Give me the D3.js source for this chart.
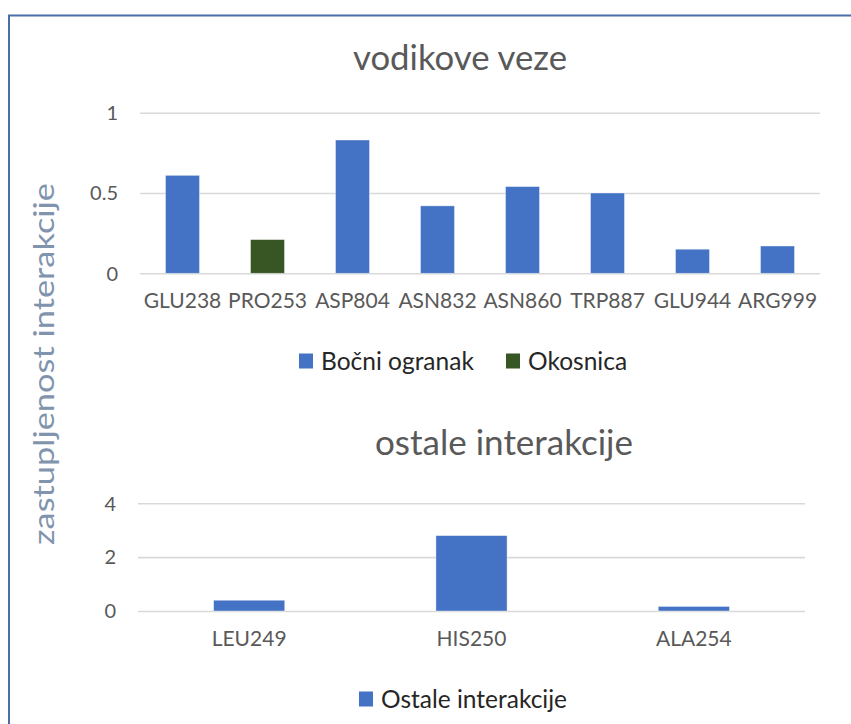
<!DOCTYPE html>
<html>
<head>
<meta charset="utf-8">
<script src="https://cdn.jsdelivr.net/npm/d3@7"></script>
<style>
  html, body { margin: 0; padding: 0; background: #ffffff; }
  svg { display: block; font-family: Lato, "Liberation Sans", sans-serif; }
  .grid line { stroke: #d9d9d9; stroke-width: 1.6; }
  .tick text { fill: #595959; }
</style>
</head>
<body>
<svg id="chart" width="851" height="724"></svg>
<script>
// Hydrogen bonds per residue
const hbCategories = ["GLU238", "PRO253", "ASP804", "ASN832", "ASN860", "TRP887", "GLU944", "ARG999"];
const hbValues = [0.61, 0.21, 0.83, 0.42, 0.54, 0.50, 0.15, 0.17];
const hbSeries = ["Bočni ogranak", "Okosnica", "Bočni ogranak", "Bočni ogranak", "Bočni ogranak", "Bočni ogranak", "Bočni ogranak", "Bočni ogranak"];
const hbLegend = ["Bočni ogranak", "Okosnica"];
const hbTicks = [0, 0.5, 1];

// Other interactions per residue
const otherCategories = ["LEU249", "HIS250", "ALA254"];
const otherValues = [0.40, 2.80, 0.17];
const otherLegend = ["Ostale interakcije"];
const otherTicks = [0, 2, 4];

const colors = { "Bočni ogranak": "#4472c4", "Okosnica": "#375623", "Ostale interakcije": "#4472c4" };

const svg = d3.select("#chart");

// outer frame
svg.append("rect")
  .attr("x", 9).attr("y", 15.5).attr("width", 860).attr("height", 740)
  .attr("fill", "none").attr("stroke", "#4a6ea8").attr("stroke-width", 2);

// shared vertical axis title
svg.append("text")
  .attr("transform", "translate(54,364) rotate(-90)")
  .attr("text-anchor", "middle")
  .attr("font-size", 29)
  .attr("textLength", 362)
  .attr("lengthAdjust", "spacingAndGlyphs")
  .attr("fill", "#8094ad")
  .text("zastupljenost interakcije");

function drawPanel(cfg) {
  const x = d3.scaleBand()
    .domain(cfg.categories)
    .range([cfg.left, cfg.right])
    .paddingInner(cfg.padInner)
    .paddingOuter(cfg.padInner / 2);
  const y = d3.scaleLinear().domain(cfg.domain).range([cfg.bottom, cfg.top]);

  const g = svg.append("g");

  // gridlines with tick labels
  const yAxis = d3.axisLeft(y)
    .tickValues(cfg.ticks)
    .tickFormat(d3.format("~g"))
    .tickSize(-(cfg.right - cfg.left))
    .tickPadding(22);
  g.append("g")
    .attr("class", "grid")
    .attr("transform", `translate(${cfg.left},0)`)
    .call(yAxis)
    .attr("font-family", null)
    .call(a => a.select(".domain").remove())
    .call(a => a.selectAll("text").attr("font-size", 20).attr("dy", "0.34em"));

  // bars
  g.selectAll("rect.bar")
    .data(cfg.categories.map((c, i) => ({ c, v: cfg.values[i], s: cfg.series[i] })))
    .join("rect")
    .attr("class", "bar")
    .attr("x", d => x(d.c))
    .attr("width", x.bandwidth())
    .attr("y", d => y(d.v))
    .attr("height", d => y(0) - y(d.v))
    .attr("fill", d => colors[d.s])
    .attr("stroke", "#ffffff")
    .attr("stroke-opacity", 0.5)
    .attr("stroke-width", 0.8);

  // category labels
  const xAxis = d3.axisBottom(x).tickSize(0).tickPadding(cfg.labelPad);
  g.append("g")
    .attr("transform", `translate(0,${cfg.bottom})`)
    .call(xAxis)
    .attr("font-family", null)
    .call(a => a.select(".domain").remove())
    .call(a => a.selectAll("text").attr("font-size", 21));

  // title
  svg.append("text")
    .attr("x", cfg.titleX).attr("y", cfg.titleY)
    .attr("text-anchor", "middle")
    .attr("font-size", 34)
    .attr("textLength", cfg.titleWidth)
    .attr("lengthAdjust", "spacingAndGlyphs")
    .attr("fill", "#595959")
    .text(cfg.title);

  // legend
  const lg = svg.append("g");
  cfg.legend.forEach((name, i) => {
    const lx = cfg.legendX[i];
    lg.append("rect")
      .attr("x", lx).attr("y", cfg.legendY - 7.5)
      .attr("width", 14).attr("height", 15)
      .attr("fill", colors[name]);
    lg.append("text")
      .attr("x", lx + 22).attr("y", cfg.legendY)
      .attr("dy", "0.35em")
      .attr("font-size", 24.5)
      .attr("fill", "#262626")
      .text(name);
  });
}

drawPanel({
  categories: hbCategories, values: hbValues, series: hbSeries,
  domain: [0, 1], ticks: hbTicks,
  left: 140, right: 820, top: 112.7, bottom: 273.3,
  padInner: 0.6, labelPad: 20,
  title: "vodikove veze", titleX: 460, titleY: 70, titleWidth: 214,
  legend: hbLegend, legendX: [299, 506], legendY: 361
});

drawPanel({
  categories: otherCategories, values: otherValues,
  series: otherCategories.map(() => "Ostale interakcije"),
  domain: [0, 4], ticks: otherTicks,
  left: 138, right: 805, top: 503.3, bottom: 611,
  padInner: 0.68, labelPad: 20,
  title: "ostale interakcije", titleX: 504, titleY: 455, titleWidth: 258,
  legend: otherLegend, legendX: [359], legendY: 699
});
</script>
</body>
</html>
